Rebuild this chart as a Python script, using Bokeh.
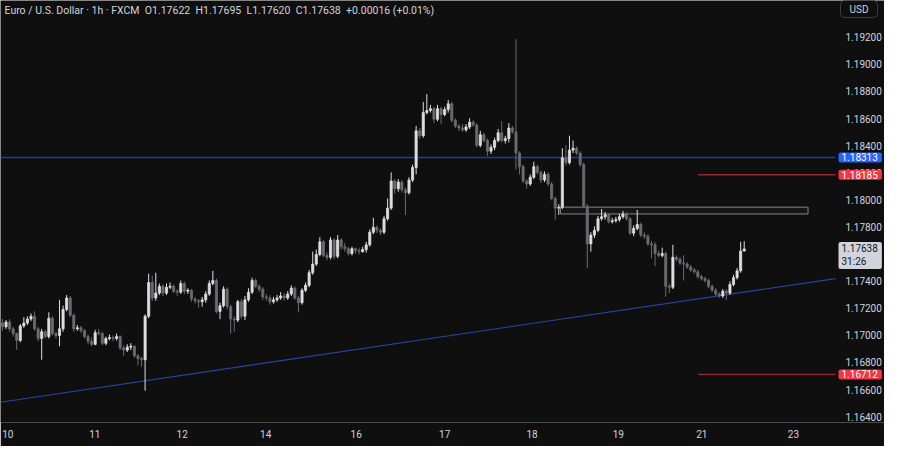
import numpy as np
from bokeh.plotting import figure
from bokeh.models import Range1d, FixedTicker, NumeralTickFormatter, Label, ColumnDataSource
from bokeh.embed import file_html
from bokeh.resources import INLINE

# ---------------- data (EUR/USD, 1h, FXCM) ----------------
first_open = 1.17091
closes = [
    1.17063, 1.17098, 1.17048, 1.17013, 1.16963, 1.17070, 1.17091, 1.17120, 1.17141, 1.17048,
    1.16977, 1.17027, 1.16991, 1.17127, 1.17013, 1.16999, 1.17048, 1.17191, 1.17276, 1.17148,
    1.17048, 1.17056, 1.17034, 1.16991, 1.16956, 1.16934, 1.17020, 1.17013, 1.16942, 1.16977,
    1.16984, 1.16977, 1.16991, 1.16906, 1.16892, 1.16913, 1.16920, 1.16849, 1.16828, 1.16820,
    1.17141, 1.17390, 1.17276, 1.17312, 1.17362, 1.17312, 1.17355, 1.17362, 1.17326, 1.17319,
    1.17383, 1.17326, 1.17333, 1.17269, 1.17255, 1.17248, 1.17262, 1.17305, 1.17383, 1.17405,
    1.17177, 1.17219, 1.17341, 1.17212, 1.17120, 1.17113, 1.17248, 1.17141, 1.17262, 1.17319,
    1.17405, 1.17362, 1.17341, 1.17284, 1.17276, 1.17248, 1.17262, 1.17276, 1.17291, 1.17276,
    1.17305, 1.17348, 1.17276, 1.17241, 1.17333, 1.17369, 1.17462, 1.17526, 1.17597, 1.17690,
    1.17590, 1.17576, 1.17704, 1.17583, 1.17704, 1.17654, 1.17640, 1.17604, 1.17640, 1.17626,
    1.17618, 1.17633, 1.17668, 1.17761, 1.17797, 1.17775, 1.17761, 1.17861, 1.17939, 1.18139,
    1.18082, 1.18131, 1.18074, 1.18053, 1.18146, 1.18238, 1.18509, 1.18473, 1.18644, 1.18659,
    1.18673, 1.18595, 1.18673, 1.18630, 1.18666, 1.18709, 1.18587, 1.18545, 1.18530, 1.18516,
    1.18538, 1.18573, 1.18552, 1.18402, 1.18481, 1.18438, 1.18359, 1.18388, 1.18438, 1.18495,
    1.18438, 1.18452, 1.18530, 1.18502, 1.18345, 1.18245, 1.18139, 1.18117, 1.18167, 1.18245,
    1.18203, 1.18146, 1.18188, 1.18117, 1.18010, 1.17939, 1.17946, 1.18310, 1.18274, 1.18367,
    1.18381, 1.18345, 1.18260, 1.17953, 1.17675, 1.17740, 1.17775, 1.17861, 1.17875, 1.17889,
    1.17839, 1.17846, 1.17854, 1.17875, 1.17896, 1.17861, 1.17754, 1.17789, 1.17818, 1.17740,
    1.17732, 1.17675, 1.17668, 1.17604, 1.17590, 1.17604, 1.17362, 1.17355, 1.17576, 1.17561,
    1.17533, 1.17526, 1.17504, 1.17483, 1.17469, 1.17433, 1.17419, 1.17405, 1.17362, 1.17333,
    1.17305, 1.17291, 1.17326, 1.17312, 1.17376, 1.17426, 1.17476, 1.17622, 1.17638,
]
highs = [
    1.17120, 1.17113, 1.17120, 1.17063, 1.17020, 1.17084, 1.17134, 1.17141, 1.17162, 1.17177,
    1.17063, 1.17048, 1.17041, 1.17170, 1.17141, 1.17027, 1.17262, 1.17219, 1.17298, 1.17291,
    1.17162, 1.17077, 1.17070, 1.17048, 1.17006, 1.16984, 1.17041, 1.17048, 1.17027, 1.16991,
    1.17006, 1.16999, 1.17013, 1.16999, 1.16927, 1.16934, 1.16942, 1.16927, 1.16863, 1.16842,
    1.17155, 1.17455, 1.17440, 1.17462, 1.17383, 1.17376, 1.17383, 1.17390, 1.17376, 1.17341,
    1.17405, 1.17398, 1.17348, 1.17341, 1.17284, 1.17269, 1.17284, 1.17326, 1.17405, 1.17476,
    1.17419, 1.17241, 1.17362, 1.17355, 1.17227, 1.17141, 1.17262, 1.17269, 1.17291, 1.17348,
    1.17426, 1.17419, 1.17376, 1.17355, 1.17305, 1.17298, 1.17284, 1.17298, 1.17319, 1.17312,
    1.17326, 1.17369, 1.17362, 1.17291, 1.17348, 1.17390, 1.17483, 1.17618, 1.17633, 1.17725,
    1.17704, 1.17611, 1.17725, 1.17718, 1.17740, 1.17718, 1.17683, 1.17654, 1.17654, 1.17647,
    1.17647, 1.17654, 1.17690, 1.17782, 1.17868, 1.17811, 1.17789, 1.17882, 1.18010, 1.18203,
    1.18153, 1.18153, 1.18146, 1.18089, 1.18167, 1.18260, 1.18545, 1.18530, 1.18723, 1.18780,
    1.18701, 1.18687, 1.18701, 1.18687, 1.18687, 1.18737, 1.18723, 1.18602, 1.18559, 1.18559,
    1.18559, 1.18602, 1.18587, 1.18566, 1.18509, 1.18495, 1.18452, 1.18409, 1.18459, 1.18523,
    1.18580, 1.18473, 1.18566, 1.18545, 1.19186, 1.18359, 1.18260, 1.18153, 1.18188, 1.18281,
    1.18260, 1.18217, 1.18210, 1.18203, 1.18131, 1.18025, 1.17968, 1.18381, 1.18402, 1.18473,
    1.18438, 1.18395, 1.18359, 1.18274, 1.17968, 1.17761, 1.17804, 1.17882, 1.17932, 1.17911,
    1.17903, 1.17868, 1.17875, 1.17896, 1.17918, 1.17911, 1.17875, 1.17811, 1.17925, 1.17832,
    1.17761, 1.17747, 1.17697, 1.17690, 1.17626, 1.17647, 1.17618, 1.17383, 1.17668, 1.17590,
    1.17576, 1.17590, 1.17540, 1.17519, 1.17497, 1.17483, 1.17447, 1.17433, 1.17419, 1.17376,
    1.17348, 1.17319, 1.17341, 1.17341, 1.17398, 1.17447, 1.17497, 1.17690, 1.17695,
]
lows = [
    1.17034, 1.17048, 1.17027, 1.16991, 1.16892, 1.16949, 1.17056, 1.17077, 1.17105, 1.17034,
    1.16956, 1.16820, 1.16977, 1.16977, 1.16999, 1.16977, 1.16920, 1.17027, 1.17177, 1.17134,
    1.17027, 1.17034, 1.17020, 1.16977, 1.16934, 1.16920, 1.16927, 1.16999, 1.16927, 1.16927,
    1.16963, 1.16956, 1.16963, 1.16892, 1.16849, 1.16877, 1.16892, 1.16835, 1.16778, 1.16771,
    1.16592, 1.17127, 1.17255, 1.17255, 1.17298, 1.17291, 1.17298, 1.17341, 1.17312, 1.17291,
    1.17305, 1.17305, 1.17305, 1.17248, 1.17234, 1.17205, 1.17212, 1.17241, 1.17291, 1.17369,
    1.17162, 1.17120, 1.17205, 1.17191, 1.17013, 1.17027, 1.17098, 1.17120, 1.17113, 1.17248,
    1.17305, 1.17348, 1.17319, 1.17262, 1.17255, 1.17227, 1.17234, 1.17248, 1.17262, 1.17255,
    1.17262, 1.17291, 1.17262, 1.17170, 1.17227, 1.17319, 1.17355, 1.17447, 1.17512, 1.17583,
    1.17576, 1.17554, 1.17561, 1.17561, 1.17569, 1.17633, 1.17618, 1.17590, 1.17590, 1.17604,
    1.17597, 1.17611, 1.17611, 1.17654, 1.17747, 1.17754, 1.17740, 1.17747, 1.17846, 1.17925,
    1.18046, 1.18060, 1.18053, 1.17889, 1.18039, 1.18131, 1.18188, 1.18452, 1.18459, 1.18630,
    1.18644, 1.18566, 1.18580, 1.18559, 1.18616, 1.18644, 1.18573, 1.18530, 1.18509, 1.18502,
    1.18502, 1.18523, 1.18538, 1.18388, 1.18388, 1.18424, 1.18324, 1.18338, 1.18367, 1.18424,
    1.18424, 1.18416, 1.18424, 1.18488, 1.18224, 1.18188, 1.18124, 1.18082, 1.18103, 1.18153,
    1.18188, 1.18124, 1.18131, 1.18103, 1.17996, 1.17854, 1.17889, 1.17932, 1.18253, 1.18260,
    1.18345, 1.18331, 1.18245, 1.17939, 1.17497, 1.17618, 1.17718, 1.17761, 1.17846, 1.17854,
    1.17825, 1.17825, 1.17832, 1.17839, 1.17861, 1.17846, 1.17740, 1.17732, 1.17775, 1.17725,
    1.17711, 1.17661, 1.17569, 1.17512, 1.17576, 1.17576, 1.17284, 1.17312, 1.17341, 1.17547,
    1.17519, 1.17405, 1.17490, 1.17469, 1.17455, 1.17419, 1.17405, 1.17390, 1.17348, 1.17319,
    1.17291, 1.17276, 1.17276, 1.17262, 1.17298, 1.17362, 1.17412, 1.17462, 1.17620,
]

day_tick_bars = [1.5, 25.9, 50.4, 73.8, 99.2, 124.0, 148.5, 172.7, 196.1, 221.8]
day_tick_labels = ["10", "11", "12", "14", "16", "17", "18", "19", "21", "23"]
price_ticks = [1.164, 1.166, 1.168, 1.170, 1.172, 1.174, 1.176, 1.178,
               1.180, 1.182, 1.184, 1.186, 1.188, 1.190, 1.192]

blue_level = 1.18313
red_upper_level = 1.18185
red_lower_level = 1.16712
zone_top = 1.17946
zone_bottom = 1.17896
zone_left_bar = 156.5
zone_right_bar = 225.9
red_start_bar = 195.0
trend_bars = [-0.55, 233.6]
trend_prices = [1.16507, 1.17419]
last_price = 1.17638
countdown = "31:26"
header = ("Euro / U.S. Dollar \u00b7 1h \u00b7 FXCM\u2002O1.17622\u2002H1.17695\u2002"
          "L1.17620\u2002C1.17638\u2002+0.00016 (+0.01%)")

# ---------------- layout ----------------
W, H = 884, 446
XAXIS_H = 24
PANE_W = 835                      # price pane width; the price scale sits right of it
FRAME_H = H - XAXIS_H
X0, X_PANE = -0.55, 233.6         # bar range covered by the price pane
dx = (X_PANE - X0) / PANE_W
X1 = X0 + W * dx                  # frame spans whole width (price scale drawn inside)
Y0, Y1 = 1.16357, 1.19471
dy = (Y1 - Y0) / FRAME_H

BG = "#0f0f0f"
UP = "#dedede"
DOWN = "#6b6b72"
TXT = "#d1d4dc"
FONT = "Roboto"

p = figure(width=W, height=H, x_range=Range1d(X0, X1), y_range=Range1d(Y0, Y1),
           y_axis_location="right", output_backend="svg", toolbar_location=None,
           min_border_left=0, min_border_top=0, min_border_right=0,
           min_border_bottom=XAXIS_H)
p.background_fill_color = BG
p.border_fill_color = BG
p.outline_line_color = None
p.xgrid.grid_line_color = None
p.ygrid.grid_line_color = None

n = len(closes)
opens = [first_open] + closes[:-1]
xs = np.arange(n)
up = [c >= o for o, c in zip(opens, closes)]
colors = [UP if u else DOWN for u in up]
src = ColumnDataSource(dict(
    x=xs, high=highs, low=lows,
    top=[max(o, c) for o, c in zip(opens, closes)],
    bottom=[min(o, c) for o, c in zip(opens, closes)],
    color=colors,
))

# zone rectangle
p.quad(left=[zone_left_bar], right=[zone_right_bar], top=[zone_top], bottom=[zone_bottom],
       fill_color="#787b86", fill_alpha=0.06, line_color="#858585", line_width=1)

# levels
p.segment(x0=[X0], x1=[X_PANE], y0=[blue_level], y1=[blue_level],
          line_color="#1f3d9c", line_width=1.6)
p.segment(x0=[red_start_bar, red_start_bar], x1=[X_PANE, X_PANE],
          y0=[red_upper_level, red_lower_level], y1=[red_upper_level, red_lower_level],
          line_color="#9a2530", line_width=1.4)
p.line(trend_bars, trend_prices, line_color="#2a44a0", line_width=1.1)

# candles
p.segment(x0="x", y0="high", x1="x", y1="low", line_color="color", line_width=1, source=src)
p.vbar(x="x", width=0.6, top="top", bottom="bottom", fill_color="color",
       line_color="color", line_width=0.8, source=src)

# axes
p.yaxis.ticker = FixedTicker(ticks=price_ticks)
p.yaxis.formatter = NumeralTickFormatter(format="0.00000")
p.xaxis.ticker = FixedTicker(ticks=day_tick_bars)
p.xaxis.major_label_overrides = {t: l for t, l in zip(day_tick_bars, day_tick_labels)}
for ax in (p.xaxis[0], p.yaxis[0]):
    ax.axis_line_color = None
    ax.major_tick_line_color = None
    ax.minor_tick_line_color = None
    ax.major_tick_out = 0
    ax.major_tick_in = 0
    ax.major_label_text_color = TXT
    ax.major_label_text_font = FONT
    ax.major_label_text_font_size = "10px"
p.yaxis.major_label_standoff = -39
p.xaxis.major_label_standoff = 7
p.xaxis.ticker.minor_ticks = []
p.yaxis.ticker.minor_ticks = []

# header legend
p.add_layout(Label(x=X0 + 4 * dx, y=Y1 - 10 * dy, text=header, text_baseline="middle",
                   text_align="left", text_color=TXT, text_font=FONT, text_font_size="10.5px"))

# USD box
p.add_layout(Label(x=X_PANE, x_offset=5, y=Y1 - 8.5 * dy, text="USD", text_baseline="middle",
                   text_align="left", text_color=TXT, text_font=FONT, text_font_size="10px",
                   background_fill_color=BG, border_line_color="#3c3c3c", border_radius=4,
                   padding=dict(left=9, right=9, top=3, bottom=3)))

# price tags
def tag(level, fill, text_color):
    p.add_layout(Label(x=X_PANE, x_offset=3, y=level, text=f"{level:.5f}",
                       text_baseline="middle", text_align="left", text_color=text_color,
                       text_font=FONT, text_font_size="10px", background_fill_color=fill,
                       border_radius=2, padding=dict(left=3, right=4, top=1, bottom=1)))

tag(blue_level, "#2962ff", "#ffffff")
tag(red_upper_level, "#f23645", "#ffffff")
tag(red_lower_level, "#f23645", "#ffffff")
p.add_layout(Label(x=X_PANE, x_offset=3, y=last_price + 7 * dy,
                   text=f"{last_price:.5f}\n{countdown}", text_baseline="top",
                   text_align="left", text_color="#131722", text_font=FONT,
                   text_font_size="10px", background_fill_color="#d1d4dc",
                   border_radius=2, padding=dict(left=3, right=4, top=1, bottom=2)))

open("out.html", "w").write(file_html(p, INLINE))
